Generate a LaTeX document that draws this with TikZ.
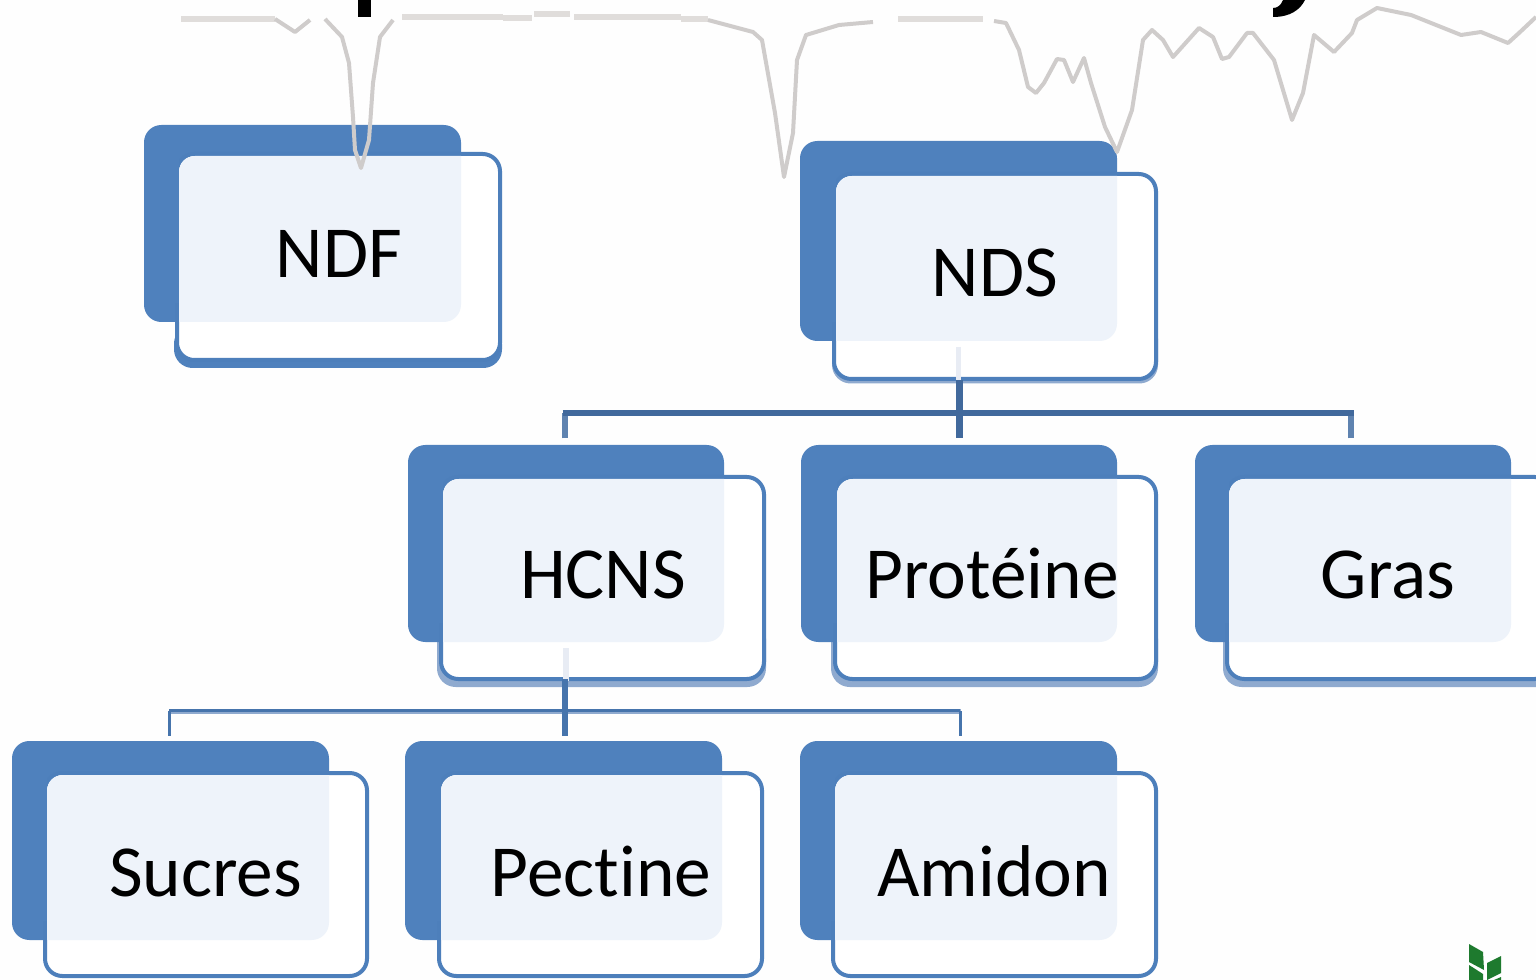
\documentclass[tikz,border=0pt]{standalone}
\usepackage{fontspec}
\setmainfont[Ligatures=NoCommon]{Carlito}
\definecolor{cardblue}{HTML}{4F81BD}
\definecolor{cardedge}{HTML}{4D7FBB}
\definecolor{cardlight}{HTML}{EEF3FA}
\definecolor{busdark}{HTML}{41699C}
\definecolor{busmid}{HTML}{5F83B0}
\definecolor{bustwo}{HTML}{4674AC}
\definecolor{buslight}{HTML}{8FAACF}
\definecolor{fade}{HTML}{E8ECF4}
\definecolor{curvegray}{HTML}{CFCCCB}
\definecolor{flatgray}{HTML}{E0DDDB}
\definecolor{leaf}{HTML}{1E7A2E}
\tikzset{
  backcard/.style={rectangle,rounded corners=13pt,fill=cardblue,inner sep=0pt,outer sep=0pt},
  frontcard/.style={rectangle,rounded corners=13pt,fill=white,draw=cardedge,line width=3pt,inner sep=0pt,outer sep=0pt},
  cardtext/.style={inner sep=0pt,font=\fontsize{55pt}{62pt}\selectfont,text=black,anchor=base},
  busline/.style={draw=busdark,line width=4.4pt},
  busdrop/.style={draw=busmid,line width=5pt},
  bustwoup/.style={draw=bustwo,line width=2.2pt},
  bustwolow/.style={draw=buslight,line width=4pt},
  stem/.style={draw=busdark,line width=4.9pt},
  stemtwo/.style={draw=bustwo,line width=4.4pt},
  stemfade/.style={draw=fade,line width=4pt},
  curve/.style={draw=curvegray,line width=3pt,line join=round,line cap=butt},
  flat/.style={draw=flatgray,line width=5.2pt,line cap=butt},
}
% name, back x1 y1 x2 y2, front x1 y1 x2 y2 (then text placed separately)
\newcommand{\mycard}[9]{%
  \pgfmathsetmacro{\bw}{(#4-#2)*0.75}\pgfmathsetmacro{\bh}{(#5-#3)*0.75}%
  \pgfmathsetmacro{\fw}{(#8-#6)*0.75}\pgfmathsetmacro{\fh}{(#9-#7)*0.75}%
  \node[backcard,minimum width=\bw pt,minimum height=\bh pt] (#1back) at ({(#2+#4)/2},{(#3+#5)/2}) {};
  \node[frontcard,minimum width=\fw pt,minimum height=\fh pt] (#1front) at ({(#6+#8)/2},{(#7+#9)/2}) {};
  \begin{scope}
    \path[clip,rounded corners=13pt] (#1back.south west) rectangle (#1back.north east);
    \fill[cardlight,rounded corners=12pt] ([shift={(1.5pt,-1.5pt)}]#1front.north west) rectangle ([shift={(-1.5pt,1.5pt)}]#1front.south east);
  \end{scope}
  \fill[cardblue] (#1back.north west) ++(0,-14pt) rectangle ([shift={(1.5pt,14pt)}]#1front.north west |- #1back.south);
}
% x1, x2, top, bottom, colour
\newcommand{\undercard}[5]{%
  \fill[#5,rounded corners=14pt] (#1,#3) rectangle (#2,#4);
}
\begin{document}
\begin{tikzpicture}[x=0.75pt,y=-0.75pt]
\useasboundingbox (0,0) rectangle (1536,980);
\fill[white!99.5!black] (0,0) rectangle (1536,980);

% under-edges of the cards
\undercard{174}{502}{325}{368}{cardblue}
\undercard{832}{1158}{320}{383.5}{buslight}
\undercard{437}{766}{620}{687}{buslight}
\undercard{831}{1158}{620}{687}{buslight}
\undercard{1223}{1570}{620}{687}{buslight}

\mycard{ndf}{144}{125}{461}{322}{177}{154}{500}{360}
\mycard{nds}{800}{141}{1117}{341}{834}{174}{1156}{379}
\mycard{hcns}{408}{445}{724}{642}{441}{477}{764}{679}
\mycard{prot}{801}{445}{1117}{642}{835}{477}{1156}{679}
\mycard{gras}{1195}{445}{1511}{642}{1227}{477}{1552}{679}
\mycard{suc}{12}{741}{329}{940}{45}{773}{367}{976}
\mycard{pec}{405}{741}{722}{940}{439}{773}{762}{976}
\mycard{ami}{800}{741}{1117}{940}{833}{773}{1156}{976}

% text labels
\node[cardtext] (tndf) at (339,278) {NDF};
\node[cardtext] (tnds) at (995,297) {NDS};
\node[cardtext] (thcns) at (603,599) {HCNS};
\node[cardtext] (tprot) at (992,599) {Protéine};
\node[cardtext] (tgras) at (1388,599) {Gras};
\node[cardtext] (tsuc) at (205.5,896) {Sucres};
\node[cardtext] (tpec) at (601,896) {Pectine};
\node[cardtext] (tami) at (994,896) {Amidon};

% connectors level 1
\coordinate (busa) at (959.5,413);
\draw[stemfade] ([yshift=-4.5pt]ndsback.south) -- ([yshift=-29pt]ndsback.south);
\draw[busdrop] ([shift={(-.8pt,5pt)}]hcnsback.north) -- ([shift={(-.8pt,0pt)}]hcnsback.north |- busa);
\draw[busdrop] ([shift={(-1.6pt,5pt)}]grasback.north) -- ([shift={(-1.6pt,0pt)}]grasback.north |- busa);
\draw[busline] ([xshift=-2.6pt]hcnsback.north |- busa) -- ([xshift=.4pt]grasback.north |- busa);
\draw[stem] ([yshift=-29pt]ndsback.south -| busa) -- ([yshift=5pt]protback.north -| busa);
% connectors level 2
\coordinate (busb) at (565,711.5);
\draw[stemfade] ([yshift=-4.5pt]hcnsback.south) -- ([yshift=-29pt]hcnsback.south);
\draw[bustwolow] ([xshift=.6pt]sucback.north |- busb) -- ([xshift=1.5pt]amiback.north |- busb);
\draw[bustwoup] ([xshift=-.9pt,yshift=4pt]sucback.north) -- ([xshift=-.9pt,yshift=.75pt]sucback.north |- busb);
\draw[bustwoup] ([xshift=1.3pt,yshift=4pt]amiback.north) -- ([xshift=1.3pt,yshift=.75pt]amiback.north |- busb);
\draw[bustwoup] ([xshift=-.9pt,yshift=.75pt]sucback.north |- busb) -- ([xshift=1.3pt,yshift=.75pt]amiback.north |- busb);
\draw[stemtwo] ([yshift=-28pt]hcnsback.south -| busb) -- ([yshift=4pt]pecback.north -| busb);

% spectrum curve
\draw[flat] (181,19) -- (275,19);
\draw[curve] (275,19) -- (295,32) -- (310,20);
\draw[curve] (325,19) -- (342,37) -- (349,63) -- (353,117) -- (355,150) -- (361,168) -- (369,140) -- (373,83) -- (380,37) -- (393,20);
\draw[flat] (402,17) -- (503,17) (503,18) -- (532,18) (534,14) -- (570,14) (574,17) -- (681,17) (681,19) -- (708,19);
\draw[curve] (708,20) -- (753,32) -- (762,40) -- (775,113) -- (784,177) -- (793,133) -- (797,60) -- (806,35) -- (839,25) -- (873,22);
\draw[flat] (898,19) -- (983,19);
\draw[curve] (994,21) -- (1006,23) -- (1019,50) -- (1028,87) -- (1036,93) -- (1044,83) -- (1057,59) -- (1064,60) -- (1073,82) -- (1084,58) -- (1091,83) -- (1105,127) -- (1117,152) -- (1132,110) -- (1143,40) -- (1152,30) -- (1163,40) -- (1173,57) -- (1199,28) -- (1213,37) -- (1222,59) -- (1229,57) -- (1247,33) -- (1253,33) -- (1274,60) -- (1292,120) -- (1303,93) -- (1314,35) -- (1334,52) -- (1352,33) -- (1357,20) -- (1377,8) -- (1411,15) -- (1461,35) -- (1481,32) -- (1508,43) -- (1519,33) -- (1536,17);

% title fragments
\fill[black] (358,0) rectangle (371,17);
\fill[black] (1283,0) -- (1305,0) .. controls (1300,10) and (1290,17) .. (1273,17) -- (1273,8) .. controls (1278,8) and (1281,5) .. (1283,0) -- cycle;

% leaf logo
\fill[leaf] (1469,944) -- (1483,952) -- (1484,970) -- (1469,962) -- cycle;
\fill[leaf] (1487,963) -- (1501,956) -- (1501,973) -- (1487,980) -- cycle;
\fill[leaf] (1469,965) -- (1483,974) -- (1483,980) -- (1469,980) -- cycle;
\fill[leaf] (1494,980) -- (1501,977) -- (1501,980) -- cycle;
\end{tikzpicture}
\end{document}
